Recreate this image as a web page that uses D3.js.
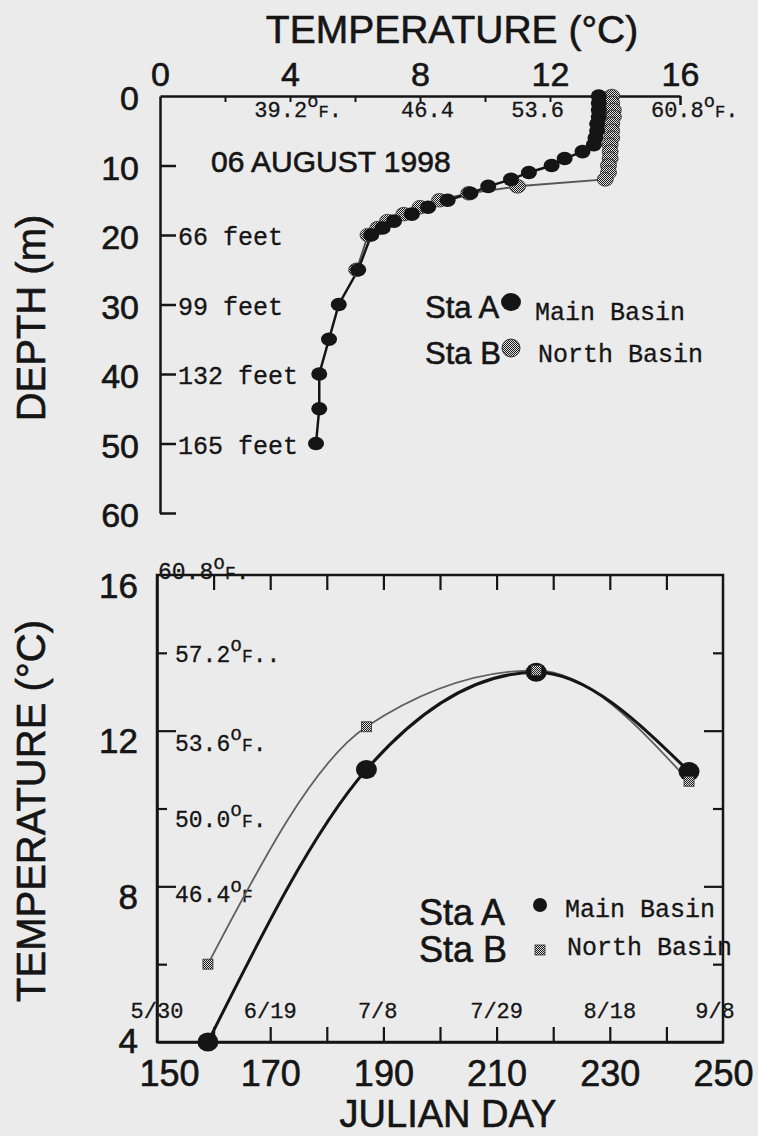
<!DOCTYPE html>
<html><head><meta charset="utf-8">
<script src="https://cdn.jsdelivr.net/npm/d3@7"></script>
<style>
html,body{margin:0;padding:0;background:#ebebeb;}
svg{display:block;}
.sans{font-family:"Liberation Sans",Arial,Helvetica,sans-serif;fill:#151515;stroke:#151515;stroke-width:0.6px;}
.mono{font-family:"Liberation Mono","Courier New",monospace;fill:#151515;stroke:#151515;stroke-width:0.3px;}
</style></head><body>
<svg id="chart" width="758" height="1136"></svg>
<script>
// ---------- Depth profile, 06 August 1998 ----------
const depthA = [0,1,2,3,4,5,6,7,8,9,10,11,12,13,14,15,16,17,18,19,20,25,30,35,40,45,50];
const tempA  = [13.5,13.5,13.5,13.5,13.45,13.45,13.4,13.35,13.0,12.45,12.05,11.35,10.8,10.1,9.55,8.85,8.25,7.75,7.2,6.85,6.5,6.1,5.5,5.2,4.9,4.9,4.8];
const depthB = [0,1,2,3,4,5,6,7,8,9,10,11,12,13,14,15,16,17,18,19,20,25];
const tempB  = [13.9,13.9,13.95,13.95,13.9,13.9,13.9,13.85,13.85,13.85,13.8,13.8,13.7,11.0,9.5,8.6,8.0,7.5,7.0,6.7,6.4,6.05];
const tempTicks = [0,4,8,12,16];
const tempMinorTicks = [2,4,6,8,10,12,14];
const depthTicks = [0,10,20,30,40,50,60];
const feetDepths = [20,30,40,50];
const feetLabels = ["66 feet","99 feet","132 feet","165 feet"];
const fahrTopTemps = [4,8,12,16];
const fahrTopLabels = ["39.2","46.4","53.6","60.8"];
const fahrTopUnits = ["°F.","","","°F."];

// ---------- Seasonal temperature ----------
const julianDays = [159,187,217,244];
const seasonA = [4.0,11.0,13.5,10.95];
const seasonB = [6.0,12.1,13.55,10.7];
const dayTicks = [150,170,190,210,230,250];
const dayMinorTicks = [160,170,180,190,200,210,220,230,240];
const dateDays = [150,170,189,210,230,251];
const dateLabels = ["5/30","6/19","7/8","7/29","8/18","9/8"];
const seasonTempTicks = [4,8,12,16];
const fahrSideTemps = [16,14,12,10,8];
const fahrSideLabels = ["60.8","57.2","53.6","50.0","46.4"];
const fahrSideUnits = ["°F.","°F..","°F.","°F.","°F"];

// ---------- layout ----------
const svg = d3.select("#chart");
const INK = "#151515";
const defs = svg.append("defs");
const pat = defs.append("pattern").attr("id","stip").attr("width",2).attr("height",2).attr("patternUnits","userSpaceOnUse");
pat.append("rect").attr("width",2).attr("height",2).attr("fill","#e0e0e0");
pat.append("rect").attr("width",1).attr("height",1).attr("fill","#1a1a1a");
pat.append("rect").attr("x",1).attr("y",1).attr("width",1).attr("height",1).attr("fill","#1a1a1a");

function styleAxis(g, w){
  g.selectAll(".domain").attr("stroke",INK).attr("stroke-width",w);
  g.selectAll(".tick line").attr("stroke",INK).attr("stroke-width",w);
}
function fahr(g, x, y, num, unit, size){
  const t = g.append("text").attr("class","mono").attr("x",x).attr("y",y).attr("font-size",size);
  t.append("tspan").text(num);
  if(unit.startsWith("°")){
    t.append("tspan").attr("font-size",size*0.85).attr("dy",-size*0.45).text("o");
    t.append("tspan").attr("font-size",size*0.78).attr("dy",size*0.45).text("F");
    t.append("tspan").text(unit.slice(2));
  }
}

// ======== TOP: depth profile ========
const xT = d3.scaleLinear().domain([0,16]).range([160,680]);
const yD = d3.scaleLinear().domain([0,60]).range([96,513]);
const gP = svg.append("g");

gP.append("text").attr("class","sans").attr("x",452).attr("y",43)
  .attr("text-anchor","middle").attr("font-size",39).text("TEMPERATURE (°C)");

const gTop = gP.append("g").attr("transform","translate(0,96)")
  .call(d3.axisTop(xT).tickValues(tempTicks).tickSize(0).tickPadding(10));
gTop.selectAll("text").attr("class","sans").attr("font-size",34).attr("fill",INK);
styleAxis(gTop,2.5);
const gTopT = gP.append("g").attr("transform","translate(0,96)")
  .call(d3.axisBottom(xT).tickValues(tempMinorTicks).tickSize(6).tickSizeOuter(0).tickFormat(""));
gTopT.select(".domain").remove();
styleAxis(gTopT,2);
const gTopEnd = gP.append("g").attr("transform","translate(0,96)")
  .call(d3.axisBottom(xT).tickValues([16]).tickSize(9).tickFormat(""));
gTopEnd.select(".domain").remove();
styleAxis(gTopEnd,2.5);

const gLeft = gP.append("g").attr("transform","translate(160,0)")
  .call(d3.axisLeft(yD).tickValues(depthTicks).tickSize(0).tickPadding(21));
gLeft.selectAll("text").attr("class","sans").attr("font-size",34).attr("fill",INK).attr("dy","0.4em");
styleAxis(gLeft,2.5);
const gLeftT = gP.append("g").attr("transform","translate(160,0)")
  .call(d3.axisRight(yD).tickValues(depthTicks.slice(1)).tickSize(16).tickFormat(""));
gLeftT.select(".domain").remove();
styleAxis(gLeftT,2.5);

gP.append("text").attr("class","sans").attr("font-size",40).attr("text-anchor","middle")
  .attr("transform","translate(45,318) rotate(-90)").text("DEPTH (m)");

gP.selectAll("text.feet").data(feetDepths).join("text")
  .attr("class","mono feet").attr("x",178).attr("y",d=>yD(d)+10).attr("font-size",25)
  .text((d,i)=>feetLabels[i]);

const topCharOff = [-2.7,-1.43,-2.94,-2.2];
fahrTopTemps.forEach((t,i)=>{
  fahr(gP, xT(t)+topCharOff[i]*0.6*22, 117, fahrTopLabels[i], fahrTopUnits[i], 22);
});

gP.append("text").attr("class","sans").attr("x",211).attr("y",172).attr("font-size",30).text("06 AUGUST 1998");

const profA = depthA.map((d,i)=>({d, t: tempA[i]}));
const profB = depthB.map((d,i)=>({d, t: tempB[i]}));
const pline = d3.line().x(p=>xT(p.t)).y(p=>yD(p.d));
gP.append("path").attr("d",pline(profB)).attr("fill","none").attr("stroke","#555").attr("stroke-width",2);
gP.append("path").attr("d",pline(profA)).attr("fill","none").attr("stroke",INK).attr("stroke-width",2.5);
gP.selectAll("ellipse.b").data(profB).join("ellipse").attr("class","b")
  .attr("cx",p=>xT(p.t)).attr("cy",p=>yD(p.d)).attr("rx",8).attr("ry",6.8)
  .attr("fill","url(#stip)").attr("stroke","#333").attr("stroke-width",0.8);
gP.selectAll("ellipse.a").data(profA).join("ellipse").attr("class","a")
  .attr("cx",p=>xT(p.t)).attr("cy",p=>yD(p.d)).attr("rx",8).attr("ry",6.8)
  .attr("fill",INK);

gP.append("text").attr("class","sans").attr("x",425).attr("y",318).attr("font-size",31).text("Sta A");
gP.append("ellipse").attr("cx",511).attr("cy",302).attr("rx",10).attr("ry",9).attr("fill",INK);
gP.append("text").attr("class","mono").attr("x",535).attr("y",320).attr("font-size",25).text("Main Basin");
gP.append("text").attr("class","sans").attr("x",425).attr("y",364).attr("font-size",31).text("Sta B");
gP.append("circle").attr("cx",511).attr("cy",348).attr("r",9).attr("fill","url(#stip)").attr("stroke","#333").attr("stroke-width",1);
gP.append("text").attr("class","mono").attr("x",538).attr("y",362).attr("font-size",25).text("North Basin");

// ======== BOTTOM: seasonal ========
const xJ = d3.scaleLinear().domain([150,250]).range([157,723]);
const yT = d3.scaleLinear().domain([4,16]).range([1042,575]);
const bot = svg.append("g");

bot.append("rect").attr("x",xJ(150)).attr("y",yT(16)).attr("width",xJ(250)-xJ(150)).attr("height",yT(4)-yT(16))
  .attr("fill","none").attr("stroke",INK).attr("stroke-width",2.5);

const gB = bot.append("g").attr("transform","translate(0,1042)")
  .call(d3.axisBottom(xJ).tickValues(dayTicks).tickSize(0).tickPadding(18));
gB.selectAll("text").attr("class","sans").attr("font-size",36).attr("fill",INK)
  .attr("dx",d=>d===150?12:0);
styleAxis(gB,2.5);
const gBT = bot.append("g").attr("transform","translate(0,1042)")
  .call(d3.axisTop(xJ).tickValues(dayMinorTicks).tickSize(15).tickFormat(""));
gBT.select(".domain").remove(); styleAxis(gBT,2.2);
const gTT = bot.append("g").attr("transform","translate(0,575)")
  .call(d3.axisBottom(xJ).tickValues(dayMinorTicks).tickSize(15).tickFormat(""));
gTT.select(".domain").remove(); styleAxis(gTT,2.2);

const gL = bot.append("g").attr("transform","translate(157,0)")
  .call(d3.axisLeft(yT).tickValues(seasonTempTicks).tickSize(0).tickPadding(19));
gL.selectAll("text").attr("class","sans").attr("font-size",35).attr("fill",INK)
  .attr("dy",d=>d===4?"0.3em":"0.63em");
styleAxis(gL,2.5);
[[157,1],[723,-1]].forEach(([x,dir])=>{
  const major = bot.append("g").attr("transform",`translate(${x},0)`)
    .call((dir>0?d3.axisRight(yT):d3.axisLeft(yT)).tickValues([8,12]).tickSize(19).tickFormat(""));
  major.select(".domain").remove(); styleAxis(major,2.2);
  const minor = bot.append("g").attr("transform",`translate(${x},0)`)
    .call((dir>0?d3.axisRight(yT):d3.axisLeft(yT)).tickValues([6,10,14]).tickSize(10).tickFormat(""));
  minor.select(".domain").remove(); styleAxis(minor,2.2);
});

bot.append("text").attr("class","sans").attr("font-size",40).attr("text-anchor","middle")
  .attr("transform","translate(45,811) rotate(-90)").text("TEMPERATURE (°C)");
bot.append("text").attr("class","sans").attr("x",448).attr("y",1127).attr("font-size",38)
  .attr("text-anchor","middle").text("JULIAN DAY");

bot.selectAll("text.date").data(dateDays).join("text").attr("class","mono date")
  .attr("x",d=>Math.min(xJ(d), xJ(250)-8)).attr("y",1018).attr("font-size",22)
  .attr("text-anchor","middle").text((d,i)=>dateLabels[i]);

const sideDy = {16:4,14:9,12:20,10:18,8:16};
fahrSideTemps.forEach((t,i)=>{
  fahr(bot, t===16?158:175, yT(t)+sideDy[t], fahrSideLabels[i], fahrSideUnits[i], 23);
});

const sA = julianDays.map((d,i)=>({d, t: seasonA[i]}));
const sB = julianDays.map((d,i)=>({d, t: seasonB[i]}));
const sline = d3.line().x(p=>xJ(p.d)).y(p=>yT(p.t)).curve(d3.curveMonotoneX);
bot.append("path").attr("d",sline(sB)).attr("fill","none").attr("stroke","#606060").attr("stroke-width",1.8);
bot.append("path").attr("d",sline(sA)).attr("fill","none").attr("stroke",INK).attr("stroke-width",3);
bot.selectAll("ellipse.sa").data(sA).join("ellipse").attr("class","sa")
  .attr("cx",p=>xJ(p.d)).attr("cy",p=>yT(p.t)).attr("rx",10.5).attr("ry",9.5).attr("fill",INK);
bot.selectAll("rect.sb").data(sB).join("rect").attr("class","sb")
  .attr("x",p=>xJ(p.d)-5).attr("y",p=>yT(p.t)-5).attr("width",10).attr("height",10)
  .attr("fill","url(#stip)").attr("stroke","#333").attr("stroke-width",0.8);

bot.append("text").attr("class","sans").attr("x",419).attr("y",925).attr("font-size",36).text("Sta A");
bot.append("circle").attr("cx",540).attr("cy",905).attr("r",7).attr("fill",INK);
bot.append("text").attr("class","mono").attr("x",565).attr("y",917).attr("font-size",25).text("Main Basin");
bot.append("text").attr("class","sans").attr("x",419).attr("y",962).attr("font-size",36).text("Sta B");
bot.append("rect").attr("x",535).attr("y",945).attr("width",10).attr("height",10).attr("fill","url(#stip)").attr("stroke","#333").attr("stroke-width",0.8);
bot.append("text").attr("class","mono").attr("x",567).attr("y",955).attr("font-size",25).text("North Basin");
</script>
</body></html>
